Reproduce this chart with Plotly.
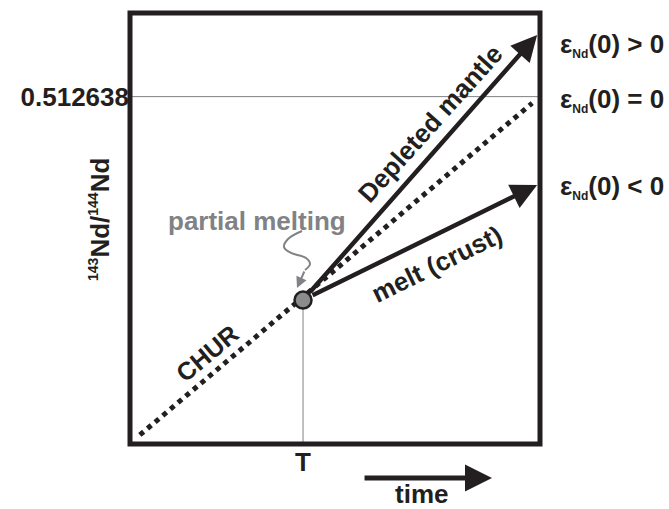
import plotly.graph_objects as go

# ---- diagram values (normalized frame units: x = time, y = 143Nd/144Nd) ----
t_melt = 0.422                      # time T of partial melting
chur_today = 0.806                  # level of present-day CHUR ratio 0.512638
chur_x = [0.024, 0.981]
chur_y = [0.021, 0.791]
melt_point = [0.422, 0.334]
dm_tip = [0.993, 0.949]             # depleted mantle at present
crust_tip = [0.993, 0.601]          # melt (crust) at present
squiggle_x = [0.4195, 0.3854, 0.3756, 0.3927, 0.4293, 0.4390, 0.4268]
squiggle_y = [0.4942, 0.4756, 0.4571, 0.4432, 0.4316, 0.4176, 0.4037]
squiggle_tip = [0.4073, 0.3619]

x_tick_vals = [t_melt]
x_tick_text = ["<b>T</b>"]
y_tick_vals = [chur_today]
y_tick_text = ["<b>0.512638</b>"]

eps_text = ["ε<sub><span style='font-size:12px'>Nd</span></sub>(0) > 0",
            "ε<sub><span style='font-size:12px'>Nd</span></sub>(0) = 0",
            "ε<sub><span style='font-size:12px'>Nd</span></sub>(0) < 0"]
eps_y = [0.926, 0.798, 0.596]

BLACK = "#231f20"
GRAY = "#808285"
FONT = "Liberation Sans, Arial, sans-serif"
FS = 26

fig = go.Figure()

# thin gray reference lines
fig.add_trace(go.Scatter(x=[0, 1], y=[chur_today, chur_today], mode="lines",
                         line=dict(color=GRAY, width=1), hoverinfo="skip"))
fig.add_trace(go.Scatter(x=[t_melt, t_melt], y=[0, melt_point[1]], mode="lines",
                         line=dict(color=GRAY, width=1), hoverinfo="skip"))
# CHUR dotted line
fig.add_trace(go.Scatter(x=chur_x, y=chur_y, mode="lines",
                         line=dict(color=BLACK, width=5, dash="5px,5px"),
                         hoverinfo="skip"))
# squiggly pointer
fig.add_trace(go.Scatter(x=squiggle_x, y=squiggle_y, mode="lines",
                         line=dict(color=GRAY, width=2, shape="spline", smoothing=1.1),
                         hoverinfo="skip"))
# melting point
fig.add_trace(go.Scatter(x=[melt_point[0]], y=[melt_point[1]], mode="markers",
                         marker=dict(size=17, color="#8c8c8c",
                                     line=dict(color=BLACK, width=2.5)),
                         hoverinfo="skip"))

ann = []
for tip in (dm_tip, crust_tip):
    ann.append(dict(x=tip[0], y=tip[1], xref="x", yref="y",
                    ax=melt_point[0], ay=melt_point[1], axref="x", ayref="y",
                    text="", showarrow=True, arrowhead=2, arrowsize=1.15,
                    arrowwidth=4.5, arrowcolor=BLACK, startstandoff=9, standoff=0))
# squiggle arrow head
ann.append(dict(x=squiggle_tip[0], y=squiggle_tip[1], xref="x", yref="y",
                ax=squiggle_x[-1], ay=squiggle_y[-1], axref="x", ayref="y",
                text="", showarrow=True, arrowhead=2, arrowsize=1.1,
                arrowwidth=2, arrowcolor=GRAY, standoff=0))
# time arrow
ann.append(dict(x=0.883, y=-0.079, xref="paper", yref="paper",
                ax=-129, ay=0, text="", showarrow=True, arrowhead=2,
                arrowsize=1.08, arrowwidth=5, arrowcolor=BLACK, standoff=0))
ann.append(dict(x=0.71, y=-0.117, xref="paper", yref="paper", text="<b>time</b>",
                xanchor="center", yanchor="middle",
                showarrow=False, font=dict(size=FS, color=BLACK)))

# epsilon labels
for t, yy in zip(eps_text, eps_y):
    ann.append(dict(x=1.044, y=yy, xref="paper", yref="paper", text="<b>" + t + "</b>",
                    xanchor="left", yanchor="middle", showarrow=False,
                    font=dict(size=FS, color=BLACK)))

# in-plot labels
ann.append(dict(x=0.7317, y=0.7425, xref="x", yref="y", text="<b>Depleted mantle</b>",
                xanchor="center", yanchor="middle",
                textangle=-48, showarrow=False, font=dict(size=FS, color=BLACK)))
ann.append(dict(x=0.7488, y=0.4176, xref="x", yref="y", text="<b>melt (crust)</b>",
                xanchor="center", yanchor="middle",
                textangle=-26, showarrow=False, font=dict(size=FS, color=BLACK)))
ann.append(dict(x=0.189, y=0.2111, xref="x", yref="y", text="<b>CHUR</b>",
                xanchor="center", yanchor="middle",
                textangle=-40, showarrow=False, font=dict(size=25, color=BLACK)))
ann.append(dict(x=0.3098, y=0.5174, xref="x", yref="y", text="<b>partial melting</b>",
                xanchor="center", yanchor="middle",
                showarrow=False, font=dict(size=FS, color=GRAY)))

# y-axis title
ann.append(dict(x=-0.073, y=0.52, xref="paper", yref="paper",
                xanchor="center", yanchor="middle",
                text="<b><sup><span style='font-size:14px'>143</span></sup>Nd/"
                     "<sup><span style='font-size:14px'>144</span></sup>Nd</b>",
                textangle=-90, showarrow=False, font=dict(size=FS, color=BLACK)))

fig.update_layout(
    width=669, height=509,
    margin=dict(l=130, r=129, t=13, b=65),
    paper_bgcolor="white", plot_bgcolor="white",
    showlegend=False,
    font=dict(family=FONT, color=BLACK),
    annotations=ann,
    shapes=[dict(type="rect", xref="paper", yref="paper", x0=0, x1=1, y0=0, y1=1,
                 line=dict(color=BLACK, width=5))],
    xaxis=dict(range=[0, 1], showgrid=False, zeroline=False, showline=False,
               tickvals=x_tick_vals, ticktext=x_tick_text, ticks="",
               tickfont=dict(size=FS, color=BLACK), fixedrange=True),
    yaxis=dict(range=[0, 1], showgrid=False, zeroline=False, showline=False,
               tickvals=y_tick_vals, ticktext=y_tick_text, ticks="",
               tickfont=dict(size=FS, color=BLACK), fixedrange=True),
)

fig.write_html("out.html")
